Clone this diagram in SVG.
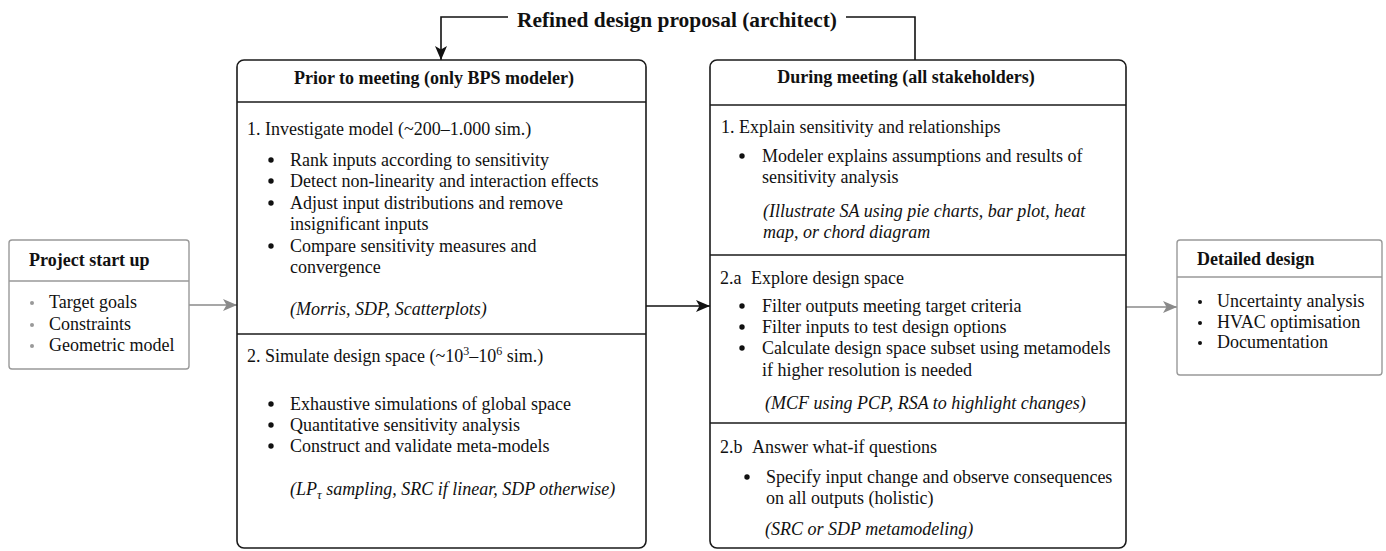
<svg xmlns="http://www.w3.org/2000/svg" width="1386" height="551" viewBox="0 0 1386 551">
<style>
text{font-family:"Liberation Serif","Times New Roman",serif;fill:#111;font-size:18px}
.b{font-weight:bold}
.i{font-style:italic}
.main{fill:#fff;stroke:#1a1a1a;stroke-width:1.6}
.side{fill:#fff;stroke:#999;stroke-width:1.4}
.div{stroke:#1a1a1a;stroke-width:1.6}
.sdiv{stroke:#999;stroke-width:1.4}
.dot{fill:#111}
.gdot{fill:#999}
.cb{fill:none;stroke:#111;stroke-width:1.6}
.cg{fill:none;stroke:#8a8a8a;stroke-width:1.6}
</style>
<defs>
<marker id="ab" markerUnits="userSpaceOnUse" markerWidth="15" markerHeight="12" refX="14" refY="6" orient="auto"><path d="M0,0 L14,6 L0,12 L3.5,6 z" fill="#111"/></marker>
<marker id="ag" markerUnits="userSpaceOnUse" markerWidth="15" markerHeight="12" refX="14" refY="6" orient="auto"><path d="M0,0 L14,6 L0,12 L3.5,6 z" fill="#8a8a8a"/></marker>
</defs>
<rect width="1386" height="551" fill="#fff"/>

<g id="connectors">
<path class="cg" d="M189,305 H237" marker-end="url(#ag)"/>
<path class="cb" d="M646,306 H710" marker-end="url(#ab)"/>
<path class="cg" d="M1126,307 H1177" marker-end="url(#ag)"/>
<path class="cb" d="M915,60 V17 H441 V60" marker-end="url(#ab)"/>
<rect x="508" y="4" width="338" height="28" fill="#fff"/>
<text class="b" x="677" y="27" text-anchor="middle" textLength="320" lengthAdjust="spacingAndGlyphs" style="font-size:22px">Refined design proposal (architect)</text>
</g>

<g id="project-start">
<rect class="side" x="9" y="240" width="180" height="129" rx="3"/>
<line class="sdiv" x1="9" y1="281" x2="189" y2="281"/>
<text class="b" x="29" y="266">Project start up</text>
<circle class="gdot" cx="32" cy="303" r="2"/>
<circle class="gdot" cx="32" cy="325" r="2"/>
<circle class="gdot" cx="32" cy="346" r="2"/>
<text x="49" y="308">Target goals</text>
<text x="49" y="330">Constraints</text>
<text x="49" y="351">Geometric model</text>
</g>

<g id="prior-meeting">
<rect class="main" x="237" y="60" width="409" height="488" rx="7"/>
<line class="div" x1="237" y1="102" x2="646" y2="102"/>
<line class="div" x1="237" y1="334" x2="646" y2="334"/>
<text class="b" x="434" y="84" text-anchor="middle">Prior to meeting (only BPS modeler)</text>
<text x="247" y="135">1. Investigate model (~200–1.000 sim.)</text>
<circle class="dot" cx="271" cy="160" r="2.7"/>
<circle class="dot" cx="271" cy="181" r="2.7"/>
<circle class="dot" cx="271" cy="203" r="2.7"/>
<circle class="dot" cx="271" cy="246" r="2.7"/>
<text x="290" y="166">Rank inputs according to sensitivity</text>
<text x="290" y="187">Detect non-linearity and interaction effects</text>
<text x="290" y="209">Adjust input distributions and remove</text>
<text x="290" y="230">insignificant inputs</text>
<text x="290" y="252">Compare sensitivity measures and</text>
<text x="290" y="273">convergence</text>
<text class="i" x="290" y="315">(Morris, SDP, Scatterplots)</text>
<text x="247" y="362">2. Simulate design space (~10<tspan dy="-7" font-size="12">3</tspan><tspan dy="7">–10</tspan><tspan dy="-7" font-size="12">6</tspan><tspan dy="7"> sim.)</tspan></text>
<circle class="dot" cx="271" cy="404" r="2.7"/>
<circle class="dot" cx="271" cy="425" r="2.7"/>
<circle class="dot" cx="271" cy="446" r="2.7"/>
<text x="290" y="410">Exhaustive simulations of global space</text>
<text x="290" y="431">Quantitative sensitivity analysis</text>
<text x="290" y="452">Construct and validate meta-models</text>
<text class="i" x="290" y="495">(LP<tspan dy="4" font-size="13">τ</tspan><tspan dy="-4"> sampling, SRC if linear, SDP otherwise)</tspan></text>
</g>

<g id="during-meeting">
<rect class="main" x="710" y="60" width="416" height="488" rx="7"/>
<line class="div" x1="710" y1="105" x2="1126" y2="105"/>
<line class="div" x1="710" y1="255" x2="1126" y2="255"/>
<line class="div" x1="710" y1="423" x2="1126" y2="423"/>
<text class="b" x="906" y="83" text-anchor="middle">During meeting (all stakeholders)</text>
<text x="721" y="133">1. Explain sensitivity and relationships</text>
<circle class="dot" cx="742" cy="156" r="2.7"/>
<text x="762" y="162">Modeler explains assumptions and results of</text>
<text x="762" y="183">sensitivity analysis</text>
<text class="i" x="763" y="217">(Illustrate SA using pie charts, bar plot, heat</text>
<text class="i" x="763" y="238">map, or chord diagram</text>
<text x="720" y="284">2.a</text>
<text x="751" y="284">Explore design space</text>
<circle class="dot" cx="742" cy="306" r="2.7"/>
<circle class="dot" cx="742" cy="327" r="2.7"/>
<circle class="dot" cx="742" cy="348" r="2.7"/>
<text x="762" y="312">Filter outputs meeting target criteria</text>
<text x="762" y="333">Filter inputs to test design options</text>
<text x="762" y="354">Calculate design space subset using metamodels</text>
<text x="762" y="376">if higher resolution is needed</text>
<text class="i" x="765" y="409">(MCF using PCP, RSA to highlight changes)</text>
<text x="720" y="453">2.b</text>
<text x="752" y="453">Answer what-if questions</text>
<circle class="dot" cx="747" cy="477" r="2.7"/>
<text x="766" y="483">Specify input change and observe consequences</text>
<text x="766" y="504">on all outputs (holistic)</text>
<text class="i" x="765" y="535">(SRC or SDP metamodeling)</text>
</g>

<g id="detailed-design">
<rect class="side" x="1177" y="240" width="205" height="135" rx="3"/>
<line class="sdiv" x1="1177" y1="277" x2="1382" y2="277"/>
<text class="b" x="1197" y="265">Detailed design</text>
<circle class="dot" cx="1200" cy="302" r="2"/>
<circle class="dot" cx="1200" cy="323" r="2"/>
<circle class="dot" cx="1200" cy="343" r="2"/>
<text x="1217" y="307">Uncertainty analysis</text>
<text x="1217" y="328">HVAC optimisation</text>
<text x="1217" y="348">Documentation</text>
</g>
</svg>
